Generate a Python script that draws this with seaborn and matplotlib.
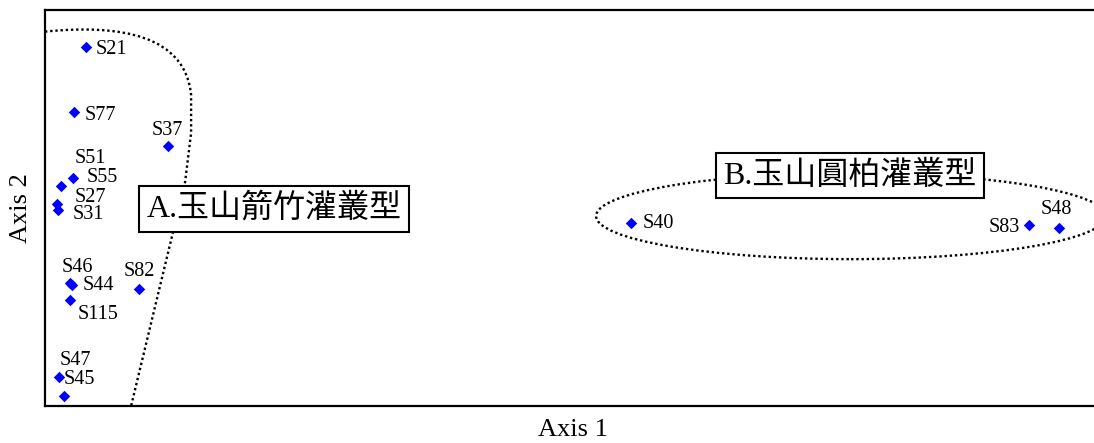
import numpy as np
import pandas as pd
import matplotlib
matplotlib.use("Agg")
import matplotlib.pyplot as plt
from matplotlib.path import Path
from matplotlib.patches import PathPatch, Ellipse
import seaborn as sns

# Ordination scores of the plots
plots = ["S21", "S77", "S37", "S55", "S51", "S27", "S31", "S46", "S44",
         "S115", "S82", "S47", "S45", "S40", "S83", "S48"]
axis1 = [13.7, 9.7, 41.0, 9.3, 5.3, 4.0, 4.3, 8.3, 9.0,
         8.3, 31.3, 4.7, 6.3, 195.3, 328.0, 338.0]
axis2 = [119.7, 98.0, 86.7, 76.0, 73.3, 67.3, 65.3, 41.0, 40.3,
         35.3, 39.0, 9.7, 3.3, 61.0, 60.3, 59.3]

# label offsets from each point, in pixels (dx, dy)
label_dx = [10, 11, -16, 14, 14, 18, 15, -8, 11, 8, -15, 1, 0, 12, -40, -18]
label_dy = [-3, -4, 15, 0, 28, 7, -4, 15, 0, -14, 18, 16, 17, -1, -2, 19]

group_a = "A.玉山箭竹灌叢型"
group_b = "B.玉山圓柏灌叢型"

df = pd.DataFrame({"plot": plots, "Axis 1": axis1, "Axis 2": axis2})

sns.set_theme(style="white")
plt.rcParams["font.family"] = ["Liberation Serif", "Noto Sans CJK TC", "DejaVu Sans"]
plt.rcParams["text.color"] = "black"
plt.rcParams["axes.labelcolor"] = "black"

fig = plt.figure(figsize=(10.94, 4.43), dpi=100)
ax = fig.add_axes([45 / 1094, 37 / 443, 1056 / 1094, 396 / 443])

sns.scatterplot(data=df, x="Axis 1", y="Axis 2", ax=ax, marker="D",
                color="#0000ff", s=34, linewidth=0, zorder=3)

for name, x, y, dx, dy in zip(plots, axis1, axis2, label_dx, label_dy):
    ax.annotate(name, (x, y), xytext=(dx, dy), textcoords="offset pixels",
                ha="left", va="center", fontsize=14.5, color="black",
                family=["Liberation Serif"])

ax.set_xlim(0, 352)
ax.set_ylim(0, 132)
ax.set_xticks([])
ax.set_yticks([])
ax.set_xlabel("Axis 1", fontsize=19, family=["Liberation Serif"], labelpad=9)
ax.set_ylabel("Axis 2", fontsize=19, family=["Liberation Serif"], labelpad=9)

for side in ("left", "top", "bottom"):
    ax.spines[side].set_color("black")
    ax.spines[side].set_linewidth(1.6)
ax.spines["right"].set_visible(False)

dots = (0, (1, 1.2))
dot_style = dict(fill=False, edgecolor="black", linewidth=1.7,
                 linestyle=dots, zorder=1, clip_on=False)

# boundary of group A
verts = [(0, 124.8), (25, 127.3), (46.7, 123.7), (48.7, 103.7),
         (48.7, 91.0), (46.7, 74.7), (28.7, 0)]
codes = [Path.MOVETO, Path.CURVE4, Path.CURVE4, Path.CURVE4,
         Path.LINETO, Path.LINETO, Path.LINETO]
ax.add_patch(PathPatch(Path(verts, codes), **dot_style))

# boundary of group B
ax.add_patch(Ellipse((268.7, 63.3), 170, 28.7, **dot_style))

box = dict(boxstyle="square,pad=0.24", facecolor="white", edgecolor="black",
           linewidth=1.5)
cjk = ["Liberation Serif", "Noto Sans CJK TC"]
ax.text(76.3, 65.8, group_a, ha="center", va="center", fontsize=23,
        family=cjk, bbox=box, zorder=4)
ax.text(268.3, 76.8, group_b, ha="center", va="center", fontsize=23,
        family=cjk, bbox=box, zorder=4)

fig.savefig("out.png", dpi=100)
